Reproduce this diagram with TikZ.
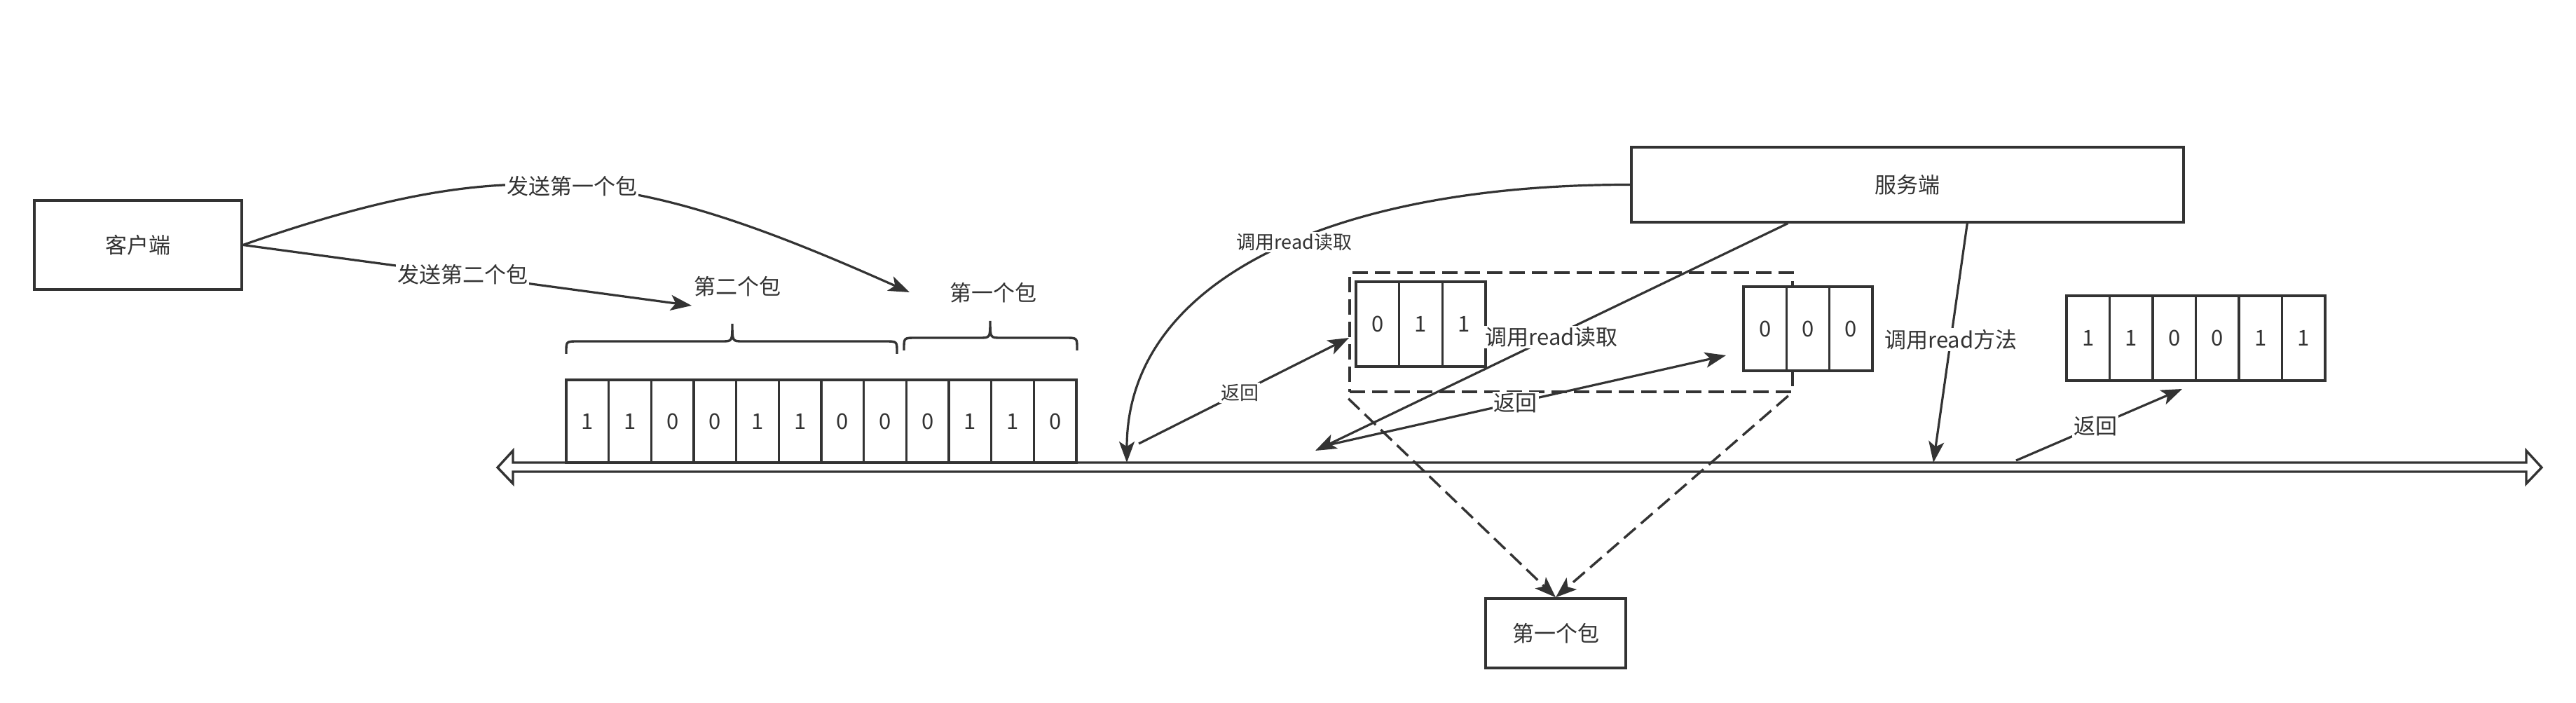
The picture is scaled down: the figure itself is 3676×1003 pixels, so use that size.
\documentclass[tikz,border=0pt]{standalone}
\usepackage{fontspec}
\setmainfont{Noto Sans CJK SC}
\usetikzlibrary{arrows.meta}
\definecolor{ink}{HTML}{333333}
\begin{document}
\begin{tikzpicture}[x=0.25pt,y=-0.25pt,
  nfont/.style={font=\fontsize{7.75pt}{9pt}\selectfont},
  sfont/.style={font=\fontsize{6.75pt}{8pt}\selectfont},
  box/.style={draw=ink, line width=0.85pt, fill=white, inner sep=0pt, text=ink, nfont},
  cell/.style={draw=ink, line width=0.85pt, fill=white, inner sep=0pt, text=ink, nfont},
  conn/.style={draw=ink, line width=0.8pt, -{Stealth[length=7.5pt,width=5.5pt,inset=1.8pt]}},
  lbl/.style={fill=white, inner sep=0.5pt, text=ink, nfont},
  slbl/.style={fill=white, inner sep=0.5pt, text=ink, sfont},
  dsh/.style={dash pattern=on 5.5pt off 2.5pt},
  bracestyle/.style={draw=ink, line width=0.85pt},
]
\useasboundingbox[fill=white] (0,0) rectangle (3676,1003);

% boxes
\node[box, minimum width=74pt, minimum height=31.75pt] (client) at (197,349.5) {客户端};
\node[box, minimum width=197pt, minimum height=26.75pt] (server) at (2722,263.5) {服务端};
\node[box, minimum width=50pt, minimum height=24.75pt] (pkt) at (2220,903.5) {第一个包};

% timeline (hollow double arrow)
\draw[draw=ink, line width=0.85pt, fill=white] (710,667) -- (732,643) -- (732,660) -- (3605,660) -- (3605,643) -- (3627,667) -- (3605,690) -- (3605,673) -- (732,673) -- (732,690) -- cycle;

% big bit array
\foreach \b [count=\i from 0] in {1,1,0,0,1,1,0,0,0,1,1,0}
  \node[cell, minimum width=15.17pt, minimum height=29.5pt] (a\i) at ({838.33+\i*60.67},601) {\b};

% braces
\draw[bracestyle] (808,505) -- (808,502) .. controls (808,487) .. (825,487) -- (1030,487) .. controls (1045,487) .. (1045,462) .. controls (1045,487) .. (1060,487) -- (1263,487) .. controls (1280,487) .. (1280,502) -- (1280,505);
\draw[bracestyle] (1290,500) -- (1290,497) .. controls (1290,482) .. (1307,482) -- (1398,482) .. controls (1413,482) .. (1413,458) .. controls (1413,482) .. (1428,482) -- (1520,482) .. controls (1537,482) .. (1537,497) -- (1537,500);
\node[nfont, text=ink] (l2) at (1052,409) {第二个包};
\node[nfont, text=ink] (l1) at (1417,418) {第一个包};

% dashed group
\node[draw=ink, line width=0.9pt, dsh, minimum width=158pt, minimum height=42.5pt, inner sep=0pt] (grp) at (2242,474) {};

% small arrays
\foreach \b [count=\i from 0] in {0,1,1}
  \node[cell, minimum width=15.42pt, minimum height=30.25pt] (b\i) at ({1965.83+\i*61.67},462.5) {\b};
\foreach \b [count=\i from 0] in {0,0,0}
  \node[cell, minimum width=15.33pt, minimum height=30pt] (c\i) at ({2518.67+\i*61.33},469) {\b};
\foreach \b [count=\i from 0] in {1,1,0,0,1,1}
  \node[cell, minimum width=15.38pt, minimum height=30.25pt] (d\i) at ({2979.75+\i*61.5},482.5) {\b};

% free ends
\coordinate (e1) at (1298,417);
\coordinate (e2) at (987,436);
\coordinate (t1) at (1608,660);
\coordinate (s1) at (1625,633);
\coordinate (e3) at (1925,482);
\coordinate (t2) at (1877,643);
\coordinate (s2) at (1886,637);
\coordinate (e4) at (2463,507);
\coordinate (t3) at (2759,660);
\coordinate (s3) at (2877,657);
\coordinate (e5) at (3114,555);

% client arrows
\draw[conn] (client.east) .. controls (731,216) and (897,238) .. (e1) node[lbl,pos=0.5] {发送第一个包};
\draw[conn] (client.east) -- (e2) node[lbl,pos=0.49] {发送第二个包};

% server reads and returns
\draw[conn] (server.west) .. controls (1900,263) and (1608,400) .. (t1) node[slbl,pos=0.45] {调用read读取};
\draw[conn] (s1) -- (e3) node[slbl,pos=0.48] {返回};
\draw[conn] ([xshift=56.25pt]server.south west) -- (t2) node[lbl,pos=0.5] {调用read读取};
\draw[conn] (s2) -- (e4) node[lbl,pos=0.48] {返回};
\draw[conn] ([xshift=120.25pt]server.south west) -- (t3) node[lbl,pos=0.487] {调用read方法};
\draw[conn] (s3) -- (e5) node[lbl,pos=0.477] {返回};

% dashed arrows to first packet
\draw[conn, dsh, line width=0.85pt] ([yshift=-2pt]grp.south west) -- (pkt.north);
\draw[conn, dsh, line width=0.85pt] ([xshift=-2pt,yshift=-1pt]grp.south east) -- (pkt.north);
\end{tikzpicture}
\end{document}
